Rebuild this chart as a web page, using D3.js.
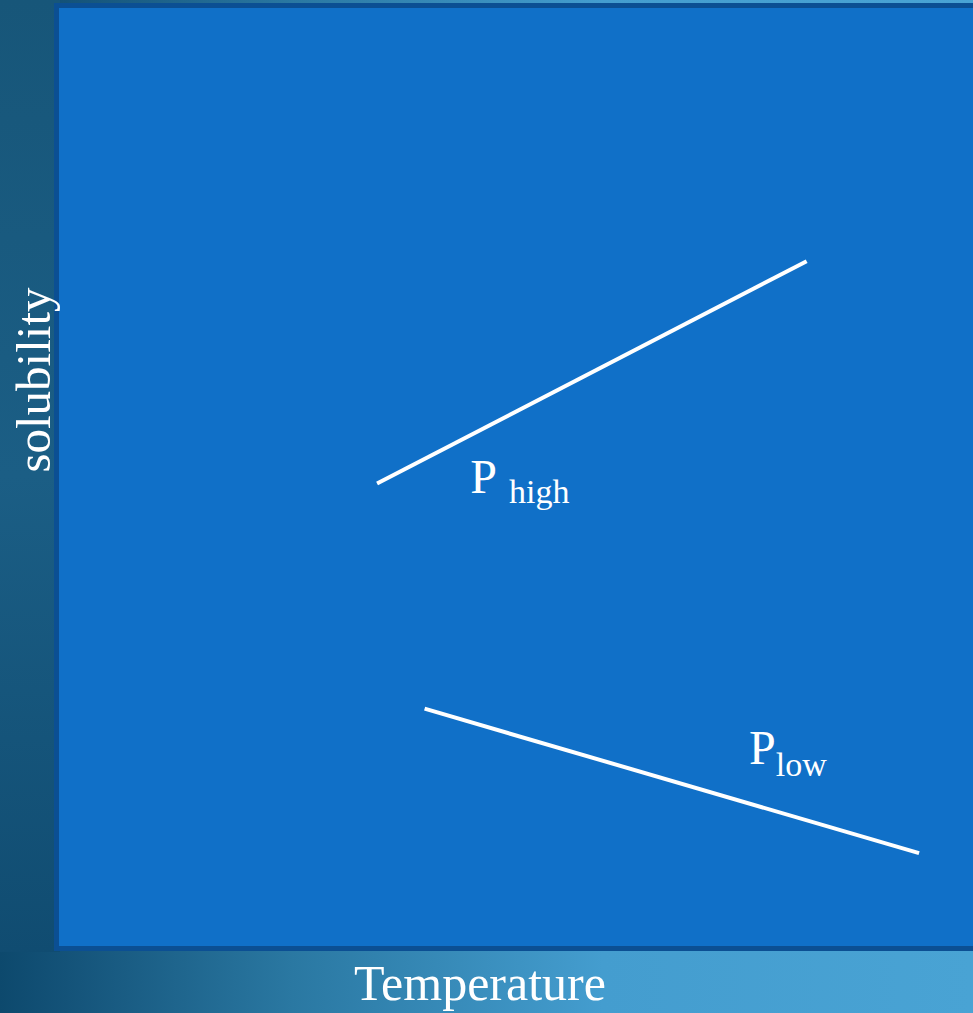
<!DOCTYPE html>
<html>
<head>
<meta charset="utf-8">
<script src="https://cdn.jsdelivr.net/npm/d3@7"></script>
<style>
  body { margin: 0; background: #1a5a80; }
  svg { display: block; }
</style>
</head>
<body>
<div id="chart"></div>
<script>
// Line endpoints, in chart units (0-100 on both axes)
const seriesNames = ["high", "low"];
const highLine = [{ t: 34.8, s: 49.3 }, { t: 81.8, s: 73.0 }];
const lowLine = [{ t: 40.0, s: 25.3 }, { t: 94.1, s: 9.9 }];
const labelPos = [{ t: 45.0, s: 48.3 }, { t: 75.5, s: 19.4 }];

const width = 973;
const height = 1013;
const margin = { top: 8, right: 0, bottom: 67, left: 59 };

const svg = d3.select("#chart")
  .append("svg")
  .attr("width", width)
  .attr("height", height);

// Background gradients: horizontal for the bottom band, vertical for the left strip
const defs = svg.append("defs");
const gradH = defs.append("linearGradient")
  .attr("id", "bgH")
  .attr("x1", "0").attr("y1", "0")
  .attr("x2", "1").attr("y2", "0");
gradH.append("stop").attr("offset", "0").attr("stop-color", "#0d496d");
gradH.append("stop").attr("offset", "0.07").attr("stop-color", "#145379");
gradH.append("stop").attr("offset", "0.3").attr("stop-color", "#2a78a2");
gradH.append("stop").attr("offset", "0.62").attr("stop-color", "#449dcf");
gradH.append("stop").attr("offset", "1").attr("stop-color", "#49a3d4");

const gradV = defs.append("linearGradient")
  .attr("id", "bgV")
  .attr("x1", "0").attr("y1", "0")
  .attr("x2", "0").attr("y2", "1");
gradV.append("stop").attr("offset", "0").attr("stop-color", "#175679");
gradV.append("stop").attr("offset", "0.5").attr("stop-color", "#1b5e85");
gradV.append("stop").attr("offset", "1").attr("stop-color", "#104c71");

svg.append("rect")
  .attr("width", width)
  .attr("height", height)
  .attr("fill", "url(#bgH)");

svg.append("rect")
  .attr("width", 60)
  .attr("height", 952)
  .attr("fill", "url(#bgV)");

const x = d3.scaleLinear()
  .domain([0, 100])
  .range([margin.left, width - margin.right]);

const y = d3.scaleLinear()
  .domain([0, 100])
  .range([height - margin.bottom, margin.top]);

// Plot area with darker frame
svg.append("rect")
  .attr("x", x(0) - 2.5)
  .attr("y", y(100) - 2.5)
  .attr("width", x(100) - x(0) + 20)
  .attr("height", y(0) - y(100) + 5)
  .attr("fill", "#1070c8")
  .attr("stroke", "#0b4f93")
  .attr("stroke-width", 5);

const line = d3.line()
  .x(d => x(d.t))
  .y(d => y(d.s));

svg.selectAll("path.series")
  .data([highLine, lowLine])
  .enter()
  .append("path")
  .attr("class", "series")
  .attr("d", line)
  .attr("fill", "none")
  .attr("stroke", "#ffffff")
  .attr("stroke-width", 4);

// P labels with subscripts
const font = "'Liberation Serif', 'DejaVu Serif', serif";
const labels = svg.selectAll("text.plabel")
  .data(seriesNames)
  .enter()
  .append("text")
  .attr("class", "plabel")
  .attr("x", (d, i) => x(labelPos[i].t))
  .attr("y", (d, i) => y(labelPos[i].s))
  .style("font-family", font)
  .style("fill", "#ffffff");

labels.append("tspan")
  .style("font-size", "48px")
  .text("P");
labels.append("tspan")
  .attr("dx", (d, i) => i === 0 ? 12 : 0)
  .attr("dy", (d, i) => i === 0 ? 10 : 12)
  .style("font-size", "34px")
  .text(d => d);

// Axis titles
svg.append("text")
  .attr("x", 480)
  .attr("y", 1000)
  .attr("text-anchor", "middle")
  .style("font-family", font)
  .style("font-size", "50px")
  .style("fill", "#ffffff")
  .text("Temperature");

svg.append("text")
  .attr("transform", "translate(50,380) rotate(-90)")
  .attr("text-anchor", "middle")
  .style("font-family", font)
  .style("font-size", "49px")
  .style("fill", "#ffffff")
  .text("solubility");
</script>
</body>
</html>
